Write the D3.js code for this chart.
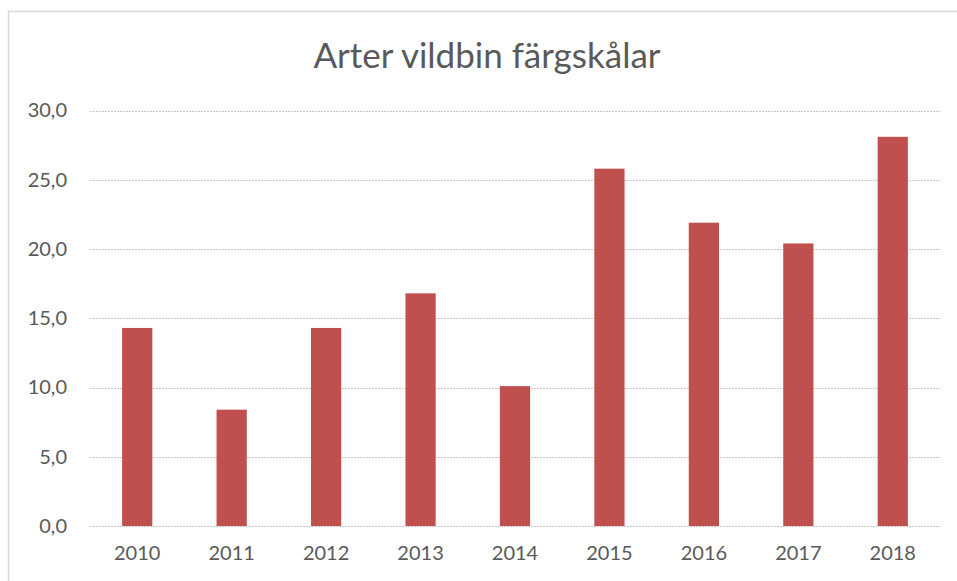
<!DOCTYPE html>
<html>
<head>
<meta charset="utf-8">
<script src="https://cdn.jsdelivr.net/npm/d3@7"></script>
<style>
  html, body { margin: 0; padding: 0; background: #fff; }
  svg { display: block; }
  text { font-family: Lato, "Open Sans", sans-serif; fill: #595959; }
</style>
</head>
<body>
<svg id="chart" width="957" height="581"></svg>
<script>
// Species of wild bees caught in colour pan traps, per year
const years = ["2010", "2011", "2012", "2013", "2014", "2015", "2016", "2017", "2018"];
const species = [14.3, 8.4, 14.3, 16.8, 10.1, 25.8, 21.9, 20.4, 28.1];
const yTicks = [0, 5, 10, 15, 20, 25, 30];
const title = "Arter vildbin färgskålar";

const svg = d3.select("#chart");
const W = 957, H = 581;
const plot = { left: 90, right: 940, top: 110.5, bottom: 526 };

// chart frame
svg.append("rect")
  .attr("x", 8.5).attr("y", 11.5)
  .attr("width", W + 10).attr("height", H + 10)
  .attr("fill", "#fff")
  .attr("stroke", "#d9d9d9").attr("stroke-width", 1.5);

const x = d3.scaleBand()
  .domain(years)
  .range([plot.left, plot.right])
  .paddingInner(0.68)
  .paddingOuter(0.34);

const y = d3.scaleLinear()
  .domain([0, 30])
  .range([plot.bottom, plot.top]);

// horizontal gridlines
svg.append("g")
  .selectAll("line")
  .data(yTicks)
  .join("line")
  .attr("x1", plot.left).attr("x2", plot.right)
  .attr("y1", d => Math.round(y(d)) + 0.5)
  .attr("y2", d => Math.round(y(d)) + 0.5)
  .attr("stroke", "#c8c8c8")
  .attr("stroke-width", 1)
  .attr("stroke-dasharray", "2,1");

// y axis labels
const fmt = d => d3.format(".1f")(d).replace(".", ",");
const yAxis = d3.axisLeft(y).tickValues(yTicks).tickFormat(fmt).tickSize(0).tickPadding(0);
const gy = svg.append("g")
  .attr("transform", `translate(${plot.left - 23},0)`)
  .call(yAxis);
gy.select(".domain").remove();
gy.selectAll("text")
  .attr("font-size", 20)
  .attr("fill", "#595959")
  .style("font-family", "Lato, 'Open Sans', sans-serif");

// bars
svg.append("g")
  .selectAll("rect")
  .data(years.map((yr, i) => ({ yr, v: species[i] })))
  .join("rect")
  .attr("x", d => x(d.yr))
  .attr("width", x.bandwidth())
  .attr("y", d => y(d.v))
  .attr("height", d => y(0) - y(d.v))
  .attr("fill", "#c0504d");

// x axis labels
const xAxis = d3.axisBottom(x).tickSize(0).tickPadding(0);
const gx = svg.append("g")
  .attr("transform", `translate(0,${plot.bottom + 20})`)
  .call(xAxis);
gx.select(".domain").remove();
gx.selectAll("text")
  .attr("font-size", 20)
  .attr("fill", "#595959")
  .style("font-family", "Lato, 'Open Sans', sans-serif");

// title
svg.append("text")
  .attr("x", 487)
  .attr("y", 68)
  .attr("text-anchor", "middle")
  .attr("font-size", 35)
  .text(title);
</script>
</body>
</html>
